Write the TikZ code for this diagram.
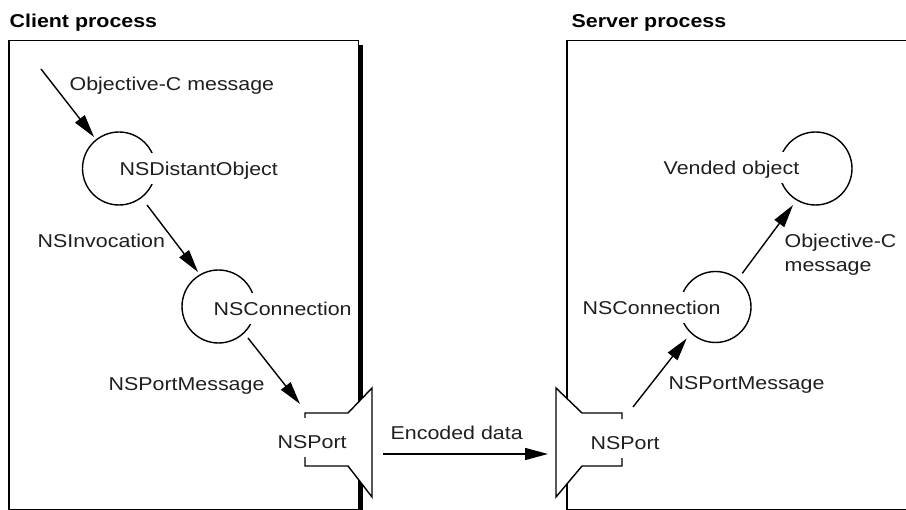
\documentclass[tikz,border=0pt]{standalone}
\usepackage{fontspec}
\setmainfont{Liberation Sans}[FakeStretch=1.15]
\usetikzlibrary{calc,arrows.meta}

\begin{document}
\begin{tikzpicture}[x=1pt,y=1pt,
  line width=1.4pt,
  txt/.style={font=\fontsize{18.6}{22}\selectfont, text=black!88},
  lbl/.style={txt, anchor=base west, inner sep=0pt},
  ttl/.style={anchor=base west, inner sep=0pt, font=\fontsize{18.6}{22}\selectfont\bfseries},
  obj/.style={circle, draw, minimum size=73pt, inner sep=0pt},
  tag/.style={txt, anchor=base west, fill=white, inner xsep=2pt, inner ysep=5pt,
              text height=18pt, text depth=3pt},
  porttag/.style={tag, text height=26pt},
  msg/.style={-{Triangle[length=23pt,width=12pt]}},
]
\path[use as bounding box, clip] (0,0) rectangle (906,-510);

% process frames
\fill (13,-45) rectangle (363,-520);
\draw[fill=white] (9,-40.5) rectangle (358.5,-509.5);
\draw[fill=white] (567,-40.5) rectangle (930,-509.5);
\node[ttl] (clientT) at (9,-28) {Client process};
\node[ttl] (serverT) at (571,-28) {Server process};

% ports
\coordinate (p1) at (372,-388);
\coordinate (p2) at (556,-388);
\draw[fill=white] (p1) -- ++(0,-109) -- ++(-24,31) -- ++(-43,0) -- ++(0,53) -- ++(43,0) -- cycle;
\draw[fill=white] (p2) -- ++(0,-109) -- ++(26,31) -- ++(40,0) -- ++(0,53) -- ++(-40,0) -- cycle;

% objects
\node[obj] (dist)  at (119,-168.5) {};
\node[obj] (conn1) at (218.5,-306.5) {};
\node[obj, minimum size=71pt] (conn2) at (715.5,-307) {};
\node[obj] (vend)  at (815.5,-168.5) {};

\node[tag] (distT)  at (117,-176) {NSDistantObject};
\node[tag] (conn1T) at (211,-316) {NSConnection};
\node[tag] (conn2T) at (580,-315) {NSConnection};
\node[tag] (vendT)  at (661,-175) {Vended object};
\node[porttag] (p1T) at (275,-449) {NSPort};
\node[porttag] (p2T) at (588,-450) {NSPort};

% message labels
\node[lbl] (l1) at (69,-91) {Objective-C message};
\node[lbl] (l2) at (37,-248) {NSInvocation};
\node[lbl] (l3) at (108,-391) {NSPortMessage};
\node[lbl] (l4) at (390,-440) {Encoded data};
\node[lbl] (l5) at (668,-390) {NSPortMessage};
\node[lbl] (l6a) at (784,-248) {Objective-C};
\node[lbl] (l6b) at (784,-272) {message};

% message flow
\coordinate (objcin) at (41,-69);
\draw[msg] (objcin) -- ($(dist)+(128.4:40.2)$);
\draw[msg] ($(dist)+(-52.5:46)$) -- ($(conn1)+(120.7:40.1)$);
\draw[msg] ($(conn1)+(-46.9:43.2)$) -- ($(p1)+(-72,-16)$);
\draw[msg] ($(p1)+(11,-66)$) -- ($(p2)+(-8,-66)$);
\draw[msg] ($(p2)+(77,-19)$) -- ($(conn2)+(227.5:42.5)$);
\draw[msg] ($(conn2)+(51.5:43)$) -- ($(vend)+(238.4:42.9)$);
\end{tikzpicture}
\end{document}
